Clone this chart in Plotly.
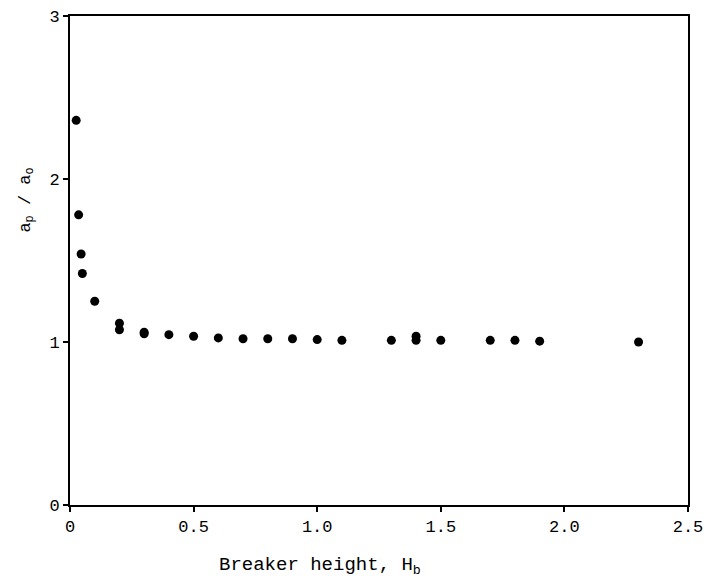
import plotly.graph_objects as go

# Breaker height (x) and a_p / a_o (y)
breaker_height = [0.025, 0.035, 0.045, 0.05, 0.10, 0.20, 0.20, 0.30, 0.30, 0.40, 0.50,
                  0.60, 0.70, 0.80, 0.90, 1.00, 1.10, 1.30, 1.40, 1.40, 1.50,
                  1.70, 1.80, 1.90, 2.30]
ratio = [2.36, 1.78, 1.54, 1.42, 1.25, 1.115, 1.075, 1.06, 1.05, 1.045, 1.035,
         1.025, 1.02, 1.02, 1.02, 1.015, 1.01, 1.01, 1.035, 1.01, 1.01,
         1.01, 1.01, 1.005, 1.0]

x_ticks = [0, 0.5, 1.0, 1.5, 2.0, 2.5]
x_tick_labels = ["0", "0.5", "1.0", "1.5", "2.0", "2.5"]
y_ticks = [0, 1, 2, 3]
y_tick_labels = ["0", "1", "2", "3"]

font_family = "Liberation Mono, Courier New, monospace"

fig = go.Figure()
fig.add_trace(go.Scatter(
    x=breaker_height, y=ratio, mode="markers",
    marker=dict(color="black", size=9),
    showlegend=False, cliponaxis=False,
))

axis_common = dict(
    showline=True, linecolor="black", linewidth=2, mirror=True,
    showgrid=False, zeroline=False, automargin=False,
    ticks="outside", ticklen=5, tickwidth=1.5, tickcolor="black",
    ticklabeloverflow="allow",
    tickfont=dict(family=font_family, size=17, color="black"),
)

fig.update_layout(
    width=706, height=585,
    margin=dict(l=70, r=18, t=16, b=80),
    plot_bgcolor="white", paper_bgcolor="white",
    xaxis=dict(range=[0, 2.5], tickvals=x_ticks, ticktext=x_tick_labels, **axis_common),
    yaxis=dict(range=[0, 3], tickvals=y_ticks, ticktext=y_tick_labels, **axis_common),
    annotations=[
        dict(text="Breaker height, H<sub>b</sub>", xref="paper", yref="paper",
             x=0.405, y=-0.125, showarrow=False, xanchor="center", yanchor="middle",
             font=dict(family=font_family, size=19, color="black")),
        dict(text="a<sub>p</sub> / a<sub>o</sub>", xref="paper", yref="paper",
             x=-0.07, y=0.624, showarrow=False, textangle=-90,
             xanchor="center", yanchor="middle",
             font=dict(family=font_family, size=17, color="black")),
    ],
)

fig.write_html("out.html",
               config={"displayModeBar": False},
               post_script="document.body.style.margin='0';document.body.style.overflow='hidden';")
